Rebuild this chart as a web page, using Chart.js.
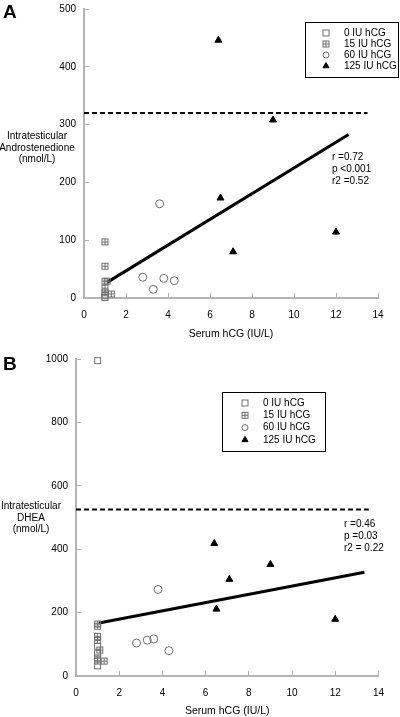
<!DOCTYPE html>
<html>
<head>
<meta charset="utf-8">
<script src="https://cdn.jsdelivr.net/npm/chart.js@4.4.1/dist/chart.umd.min.js"></script>
<style>
  html, body { margin: 0; padding: 0; background: #fff; }
  #wrap { position: relative; width: 400px; height: 717px; overflow: hidden; }
  #cA { position: absolute; left: 0; top: -10px; }
  #cB { position: absolute; left: 0; top: 340px; }
</style>
</head>
<body>
<div id="wrap">
  <canvas id="cA" width="400" height="350"></canvas>
  <canvas id="cB" width="400" height="377"></canvas>
</div>
<script>
/* ---------- data ---------- */
const groupLabels = ['0 IU hCG', '15 IU hCG', '60 IU hCG', '125 IU hCG'];
const xTicks = [0, 2, 4, 6, 8, 10, 12, 14];

// Panel A: androstenedione (nmol/L) vs serum hCG (IU/L)
const andro0x   = [1.0, 1.0];
const andro0y   = [4, 1];
const andro15x  = [1.0, 1.0, 1.0, 1.1, 1.0, 1.0, 1.3];
const andro15y  = [97, 55, 29, 29, 17, 9, 7];
const andro60x  = [3.6, 2.8, 3.3, 3.8, 4.3];
const andro60y  = [163, 36, 15, 34, 30];
const andro125x = [6.4, 9.0, 6.5, 7.1, 12.0];
const andro125y = [446, 308, 173, 80, 114];
const androFitX = [1.1, 12.6];
const androFitY = [27, 283];
const androRefX = [0, 13.5];
const androRef  = 320;
const androStats = ['r =0.72', 'p <0.001', 'r2 =0.52'];
const androTitle = ['Intratesticular', 'Androstenedione', '(nmol/L)'];

// Panel B: DHEA (nmol/L) vs serum hCG (IU/L)
const dhea0x   = [1.0, 1.0, 1.0, 1.0];
const dhea0y   = [995, 94, 72, 32];
const dhea15x  = [1.0, 1.0, 1.0, 1.0, 1.1, 1.0, 1.0, 1.3];
const dhea15y  = [164, 157, 125, 112, 82, 57, 47, 47];
const dhea60x  = [3.8, 2.8, 3.3, 3.6, 4.3];
const dhea60y  = [273, 104, 113, 117, 80];
const dhea125x = [6.4, 9.0, 7.1, 6.5, 12.0];
const dhea125y = [418, 352, 305, 211, 179];
const dheaFitX = [1.06, 13.35];
const dheaFitY = [167, 327];
const dheaRefX = [0, 13.55];
const dheaRef  = 525;
const dheaStats = ['r =0.46', 'p =0.03', 'r2 = 0.22'];
const dheaTitle = ['Intratesticular', 'DHEA', '(nmol/L)'];

/* ---------- helpers ---------- */
const FONT = "'Liberation Sans', Arial, sans-serif";
const AXIS = '#b4b4b4';

const pts = (xs, ys) => xs.map((x, i) => ({ x, y: ys[i] }));

// little square marker, optionally with a cross inside
function boxMarker(cross) {
  const c = document.createElement('canvas');
  c.width = 9; c.height = 9;
  const g = c.getContext('2d');
  g.strokeStyle = '#707070';
  g.lineWidth = 1;
  g.strokeRect(1.5, 1.5, 6, 6);
  if (cross) {
    g.beginPath();
    g.moveTo(4.5, 1.5); g.lineTo(4.5, 7.5);
    g.moveTo(1.5, 4.5); g.lineTo(7.5, 4.5);
    g.stroke();
  }
  return c;
}
const openBox = boxMarker(false);
const crossBox = boxMarker(true);

function makeDatasets(g0, g15, g60, g125, fit, ref) {
  return [
    { label: groupLabels[0], data: g0, pointStyle: openBox, pointRadius: 4, clip: false, legend: true },
    { label: groupLabels[1], data: g15, pointStyle: crossBox, pointRadius: 4, clip: false, legend: true },
    { label: groupLabels[2], data: g60, pointStyle: 'circle', pointRadius: 4, clip: false,
      backgroundColor: 'rgba(0,0,0,0)', borderColor: '#707070', borderWidth: 1, legend: true },
    { label: groupLabels[3], data: g125, pointStyle: 'triangle', pointRadius: 4, clip: false,
      backgroundColor: '#000', borderColor: '#000', borderWidth: 1, legend: true },
    { label: 'fit', type: 'line', data: fit, borderColor: '#000', borderWidth: 3,
      pointRadius: 0, fill: false },
    { label: 'ref', type: 'line', data: ref, borderColor: '#000', borderWidth: 2,
      borderDash: [5, 3], pointRadius: 0, fill: false }
  ];
}

// draws panel letter, horizontal y title, stats text, boxed legend and x title
const annotations = {
  id: 'annotations',
  afterDraw(chart, args, o) {
    const ctx = chart.ctx;
    const ca = chart.chartArea;
    ctx.save();
    ctx.fillStyle = '#000';

    ctx.font = 'bold 19px ' + FONT;
    ctx.textAlign = 'left';
    ctx.textBaseline = 'top';
    ctx.fillText(o.letter, 3, o.letterY);

    ctx.font = '10px ' + FONT;
    ctx.textAlign = 'center';
    ctx.textBaseline = 'middle';
    o.yTitle.forEach((t, i) => ctx.fillText(t, o.yTitleX, o.yTitleY + i * 11.8));

    ctx.textAlign = 'left';
    o.stats.forEach((t, i) => ctx.fillText(t, o.statsX, o.statsY + i * 12));

    ctx.font = '10.5px ' + FONT;
    ctx.textAlign = 'center';
    ctx.fillText('Serum hCG (IU/L)', (ca.left + ca.right) / 2, o.xTitleY);

    // legend
    const L = o.legendBox;
    ctx.strokeStyle = '#000';
    ctx.lineWidth = 1;
    ctx.strokeRect(L.x + 0.5, L.y + 0.5, L.w, L.h);
    ctx.font = '10px ' + FONT;
    ctx.textAlign = 'left';
    chart.data.datasets.filter(d => d.legend).forEach((d, i) => {
      const y = L.y + 11 + i * L.step;
      ctx.fillStyle = d.backgroundColor || '#000';
      ctx.strokeStyle = d.borderColor || '#000';
      ctx.lineWidth = d.borderWidth || 1;
      Chart.helpers.drawPoint(ctx, { pointStyle: d.pointStyle, radius: d.pointStyle === 'circle' ? 3 : 3.5,
        borderWidth: d.borderWidth || 1, rotation: 0 }, L.x + L.markX, y);
      ctx.fillStyle = '#000';
      ctx.fillText(d.label, L.x + L.textX, y);
    });
    ctx.restore();
  }
};

function scales(yMax, yStep, yWidth, xHeight) {
  return {
    x: {
      type: 'linear', min: 0, max: 14,
      afterBuildTicks: s => { s.ticks = xTicks.map(v => ({ value: v })); },
      afterFit: s => { s.height = xHeight; },
      border: { color: AXIS, width: 2 },
      grid: { drawOnChartArea: false, drawTicks: true, tickLength: -5, color: AXIS, lineWidth: 1 },
      ticks: { color: '#000', font: { family: FONT, size: 10 }, padding: 16, maxRotation: 0,
        callback: v => String(v) }
    },
    y: {
      type: 'linear', min: 0, max: yMax,
      ticks: { stepSize: yStep, color: '#000', font: { family: FONT, size: 10 }, padding: 13,
        callback: v => String(v) },
      afterFit: s => { s.width = yWidth; },
      border: { color: AXIS, width: 2 },
      grid: { drawOnChartArea: false, drawTicks: true, tickLength: -5, color: AXIS, lineWidth: 1 }
    }
  };
}

const common = {
  responsive: false,
  animation: false,
  plugins: { legend: { display: false }, tooltip: { enabled: false } }
};

new Chart(document.getElementById('cA'), {
  type: 'scatter',
  data: {
    datasets: makeDatasets(
      pts(andro0x, andro0y), pts(andro15x, andro15y), pts(andro60x, andro60y),
      pts(andro125x, andro125y), pts(androFitX, androFitY),
      androRefX.map(x => ({ x, y: androRef })))
  },
  options: {
    ...common,
    layout: { padding: { left: 0, top: 13, right: 22, bottom: 0 } },
    scales: scales(500, 100, 84, 42),
    plugins: {
      ...common.plugins,
      annotations: {
        letter: 'A', letterY: 13,
        yTitle: androTitle, yTitleX: 37, yTitleY: 146,
        stats: androStats, statsX: 332, statsY: 167,
        xTitleY: 344,
        legendBox: { x: 305, y: 32, w: 93, h: 55, step: 11, markX: 21, textX: 39 }
      }
    }
  },
  plugins: [annotations]
});

new Chart(document.getElementById('cB'), {
  type: 'scatter',
  data: {
    datasets: makeDatasets(
      pts(dhea0x, dhea0y), pts(dhea15x, dhea15y), pts(dhea60x, dhea60y),
      pts(dhea125x, dhea125y), pts(dheaFitX, dheaFitY),
      dheaRefX.map(x => ({ x, y: dheaRef })))
  },
  options: {
    ...common,
    layout: { padding: { left: 0, top: 18, right: 6, bottom: 0 } },
    scales: scales(1000, 200, 76, 41),
    plugins: {
      ...common.plugins,
      annotations: {
        letter: 'B', letterY: 15,
        yTitle: dheaTitle, yTitleX: 31, yTitleY: 166,
        stats: dheaStats, statsX: 344, statsY: 184,
        xTitleY: 371,
        legendBox: { x: 222, y: 52, w: 103, h: 59, step: 12.3, markX: 23, textX: 41 }
      }
    }
  },
  plugins: [annotations]
});
</script>
</body>
</html>
